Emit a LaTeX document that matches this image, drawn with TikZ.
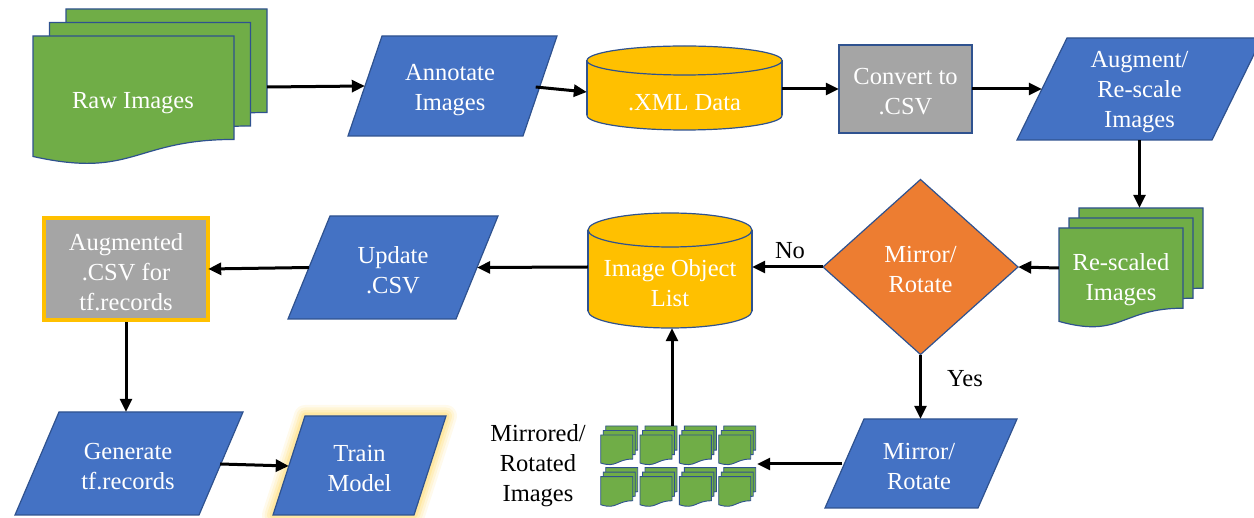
\documentclass[tikz,border=0pt]{standalone}
\usepackage{fontspec}
\setmainfont{Liberation Serif}
\usetikzlibrary{arrows.meta,fit}

\definecolor{fcblue}{HTML}{4472C4}
\definecolor{fcedge}{HTML}{2F528F}
\definecolor{fcgreen}{HTML}{70AD47}
\definecolor{fcorange}{HTML}{ED7D31}
\definecolor{fcgold}{HTML}{FFC000}
\definecolor{fcgrey}{HTML}{A5A5A5}
\definecolor{fcglow}{HTML}{FFD966}

\tikzset{
  shapeedge/.style={draw=fcedge, line width=1.2pt},
  sheet/.style={shapeedge, fill=fcgreen},
  bluebox/.style={shapeedge, fill=fcblue},
  txt/.style={text=white, font=\fontsize{24.5}{30}\selectfont, align=center, inner sep=0pt},
  lbl/.style={text=black, font=\fontsize{24.5}{30}\selectfont, align=center, inner sep=0pt},
  arr/.style={line width=3pt, -{Triangle[length=13pt,width=12pt]}},
}

% one flowchart "document" sheet: top-left corner, width, height
\newcommand\docsheet[4]{%
  \begin{scope}[shift={(#1,#2)}, xscale=#3, yscale=#4]
    \filldraw[sheet] (0,0) -- (1,0) -- (1,0.802)
      .. controls (0.5,0.802) and (0.5,1.1075) .. (0,0.934) -- cycle;
  \end{scope}}
% three stacked sheets: front top-left, width, height, x/y offset per sheet
\newcommand\docstack[6]{%
  \docsheet{#1+2*#5}{#2-2*#6}{#3}{#4}%
  \docsheet{#1+#5}{#2-#6}{#3}{#4}%
  \docsheet{#1}{#2}{#3}{#4}}
% parallelogram: centre, edge length, height, horizontal slant
\newcommand\parashape[6][]{%
  \pgfmathsetmacro\pxl{#2-#4/2}\pgfmathsetmacro\pxr{#2+#4/2}%
  \pgfmathsetmacro\pyt{#3-#5/2}\pgfmathsetmacro\pyb{#3+#5/2}%
  \pgfmathsetmacro\phs{#6/2}%
  \path[#1] (\pxl+\phs,\pyt) -- (\pxr+\phs,\pyt) -- (\pxr-\phs,\pyb) -- (\pxl-\phs,\pyb) -- cycle;}
% database cylinder: left, right, top, bottom, end radius
\newcommand\cylshape[5]{%
  \pgfmathsetmacro\cxm{(#1+#2)/2}\pgfmathsetmacro\crx{(#2-#1)/2}%
  \pgfmathsetmacro\cyt{#3+#5}\pgfmathsetmacro\cyb{#4-#5}%
  \filldraw[shapeedge, fill=fcgold] (\cxm,\cyb) ellipse [x radius=\crx pt, y radius=#5pt];
  \fill[fcgold] (#1,\cyt) rectangle (#2,\cyb);
  \draw[shapeedge] (#1,\cyt) -- (#1,\cyb) (#2,\cyt) -- (#2,\cyb);
  \filldraw[shapeedge, fill=fcgold] (\cxm,\cyt) ellipse [x radius=\crx pt, y radius=#5pt];}

\begin{document}
\begin{tikzpicture}[x=1pt,y=-1pt]
\useasboundingbox (0,0) rectangle (1254,518);

% ---- shapes ----
\docstack{33}{36}{201}{129}{16.5}{13.5}
\parashape[bluebox]{452.5}{86}{175}{100}{34}
\cylshape{587}{782}{46}{130}{14.5}
\filldraw[shapeedge, fill=fcgrey] (839,45) rectangle (972,133);
\parashape[bluebox]{1139.5}{89}{195}{102}{50}
\docstack{1059}{228}{124}{100}{10}{10}
\filldraw[shapeedge, fill=fcorange] (920.5,179.5) -- (1018,267) -- (920.5,354.5) -- (823,267) -- cycle;
\cylshape{588}{752}{213}{328}{17}
\parashape[bluebox]{393}{267.5}{168}{103}{42}
\filldraw[draw=fcgold, line width=4pt, fill=fcgrey] (44,218) rectangle (208,320);
\parashape[bluebox]{129}{463.5}{184}{103}{44}
% soft glow around the training step
\foreach \w/\o in {22/0.12, 17/0.16, 12/0.22, 7/0.3}{%
  \parashape[draw=fcglow, line width=\w pt, opacity=\o, line join=round]{359.5}{465.5}{141}{99}{32}}
\parashape[bluebox]{359.5}{465.5}{141}{99}{32}
\parashape[bluebox]{921}{463.5}{153}{89}{39}
% grid of mirrored / rotated image stacks
\begin{scope}[sheet/.append style={line width=0.9pt}]
  \foreach \ry in {435,476.7}{%
    \foreach \cx in {600.7,640,679.3,718.7}{%
      \docstack{\cx}{\ry}{32}{30}{2.5}{4.5}}}
\end{scope}

% ---- nodes ----
\node[txt, minimum width=201pt] (raw) at (133,103) {Raw Images};
\node[txt, minimum width=175pt, minimum height=100pt] (ann) at (450,90) {Annotate\\Images};
\node[txt, minimum width=195pt, minimum height=60pt] (xml) at (684.5,103) {.XML Data};
\node[txt, minimum width=133pt, minimum height=88pt] (conv) at (905.5,92) {Convert to\\.CSV};
\node[txt, minimum width=195pt, minimum height=96pt] (aug) at (1139.5,92) {Augment/\\Re-scale\\Images};
\node[txt, minimum width=124pt, minimum height=144pt] (resc) at (1121,280) {Re-scaled\\Images};
\node[txt, minimum width=195pt, minimum height=169pt] (dec) at (920.5,270) {Mirror/\\Rotate};
\node[txt, minimum width=164pt, minimum height=90pt] (iol) at (670,283) {Image Object\\List};
\node[txt, minimum width=168pt, minimum height=103pt] (upd) at (393,270.5) {Update\\.CSV};
\node[txt, minimum width=164pt, minimum height=100pt] (augm) at (126,272) {Augmented\\.CSV for\\tf.records};
\node[txt, minimum width=184pt, minimum height=110pt] (gen) at (128,467) {Generate\\tf.records};
\node[txt, minimum width=141pt, minimum height=99pt] (train) at (359.5,469) {Train\\Model};
\node[txt, minimum width=153pt, minimum height=96pt] (mrot) at (919,467) {Mirror/\\Rotate};
\node[lbl] (mlab) at (538,466) {Mirrored/\\Rotated\\Images};
\node[fit={(600,426)(757,510)}, inner sep=0pt] (grid) {};
\node[lbl] (no) at (790,251) {No};
\node[lbl] (yes) at (965,379) {Yes};

% ---- connectors ----
\draw[arr] ([xshift=33.5pt,yshift=16pt]raw.east) -- ([xshift=2.5pt,yshift=4pt]ann.west);
\draw[arr] ([xshift=-2pt,yshift=3pt]ann.east) -- ([yshift=11pt]xml.west);
\draw[arr] ([yshift=14pt]xml.east) -- ([yshift=3pt]conv.west);
\draw[arr] ([yshift=3pt]conv.east) -- ([yshift=3pt]aug.west);
\draw[arr] (aug.south) -- (aug.south |- resc.north);
\draw[arr] ([yshift=12pt]resc.west) -- ([yshift=3pt]dec.east);
\draw[arr] ([yshift=3pt]dec.west) -- ([yshift=16pt]iol.east);
\draw[arr] ([yshift=16pt]iol.west) -- ([yshift=3pt]upd.east);
\draw[arr] ([yshift=3pt]upd.west) -- ([yshift=3pt]augm.east);
\draw[arr] (augm.south) -- (augm.south |- gen.north);
\draw[arr] ([yshift=3pt]gen.east) -- ([yshift=3pt]train.west);
\draw[arr] (dec.south) -- (dec.south |- mrot.north);
\draw[arr] ([yshift=3pt]mrot.west) -- ([yshift=3pt]mrot.west -| grid.east);
\draw[arr] ([xshift=-6.5pt]grid.north) -- ([xshift=-6.5pt]grid.north |- iol.south);
\end{tikzpicture}
\end{document}
